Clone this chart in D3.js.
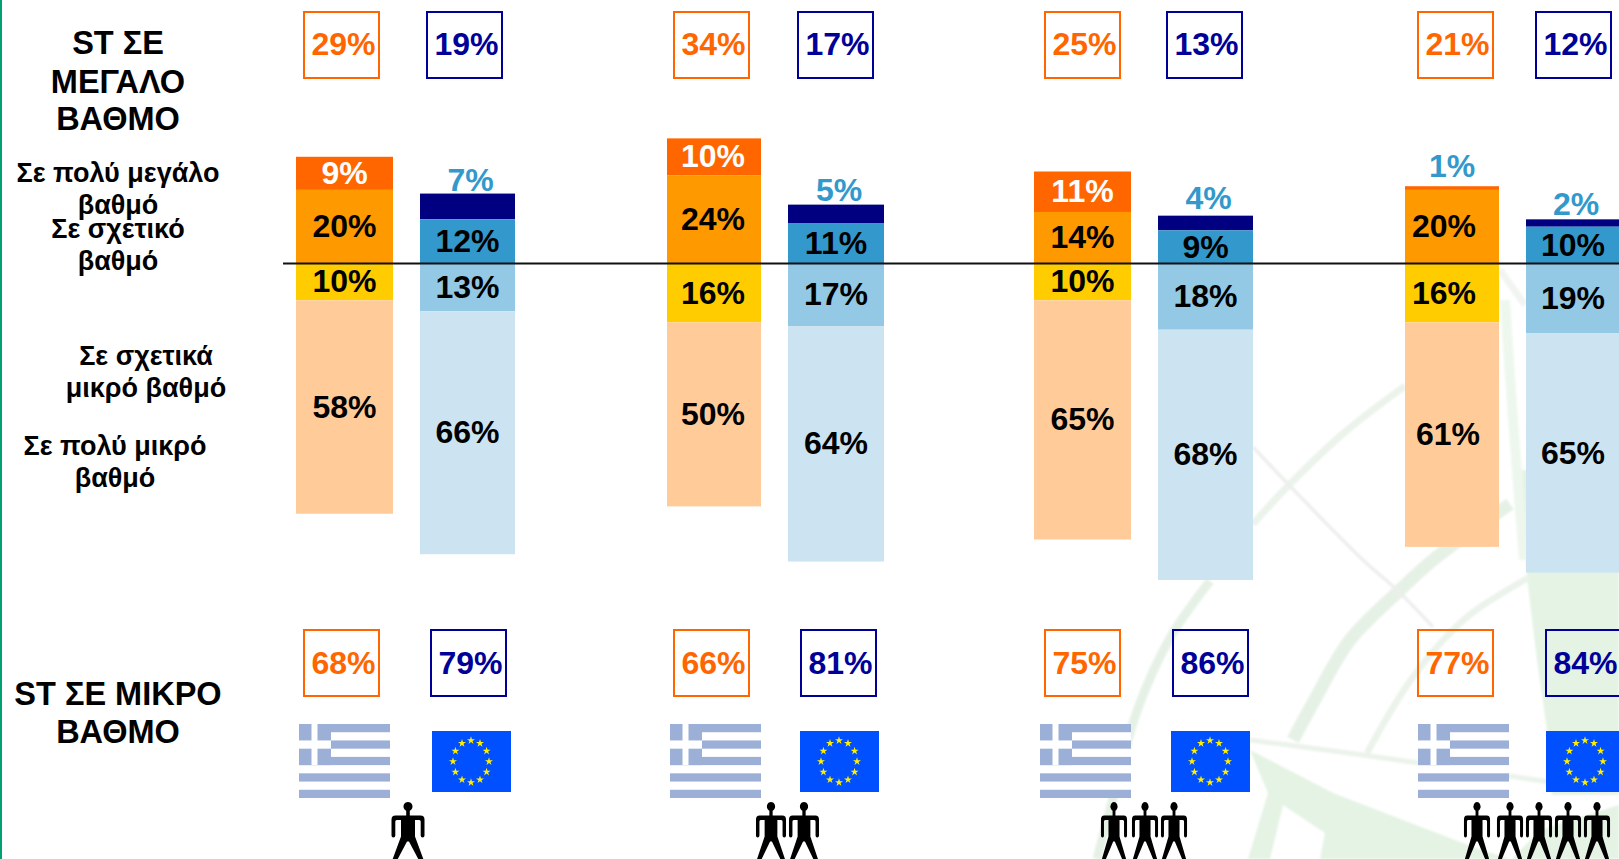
<!DOCTYPE html>
<html lang="el">
<head>
<meta charset="utf-8">
<script src="https://cdnjs.cloudflare.com/ajax/libs/d3/7.8.5/d3.min.js"></script>
<style>
html,body{margin:0;padding:0;background:#fff;overflow:hidden}
svg{display:block}
text{font-family:"Liberation Sans",Arial,sans-serif;font-weight:700}
</style>
</head>
<body>
<svg id="chart" width="1619" height="859"></svg>
<script>
const groups = ["one", "two", "three", "five"];
const peopleCounts = [1, 2, 3, 5];

const grVeryLarge = [9, 10, 11, 1];
const grFairlyLarge = [20, 24, 14, 20];
const grFairlySmall = [10, 16, 10, 16];
const grVerySmall = [58, 50, 65, 61];

const euVeryLarge = [7, 5, 4, 2];
const euFairlyLarge = [12, 11, 9, 10];
const euFairlySmall = [13, 17, 18, 19];
const euVerySmall = [66, 64, 68, 65];

const grTotalLarge = [29, 34, 25, 21];
const euTotalLarge = [19, 17, 13, 12];
const grTotalSmall = [68, 66, 75, 77];
const euTotalSmall = [79, 81, 86, 84];

const grColors = ["#FF6600", "#FF9900", "#FFCC00", "#FFCC99"];
const euColors = ["#000080", "#3399CC", "#93C9E4", "#CCE4F1"];

const sideLabels = [
  {cx: 118, lines: [["ST ΣΕ", 43], ["ΜΕΓΑΛΟ", 82], ["ΒΑΘΜΟ", 119]], size: 32.5},
  {cx: 118, lines: [["Σε πολύ μεγάλο", 173], ["βαθμό", 205]], size: 27},
  {cx: 118, lines: [["Σε σχετικό", 229], ["βαθμό", 261]], size: 27},
  {cx: 146, lines: [["Σε σχετικά", 356], ["μικρό βαθμό", 388]], size: 27},
  {cx: 115, lines: [["Σε πολύ μικρό", 446], ["βαθμό", 478]], size: 27},
  {cx: 118, lines: [["ST ΣΕ ΜΙΚΡΟ", 694], ["ΒΑΘΜΟ", 732]], size: 32.5}
];

const svg = d3.select("#chart");
const W = 1619, H = 859;

const defs = svg.append("defs");
[["soft", 0.6], ["wmBlur", 1.2]].forEach(([id, sd]) => {
  defs.append("filter").attr("id", id).attr("x", "-5%").attr("y", "-5%").attr("width", "110%").attr("height", "110%")
    .append("feGaussianBlur").attr("stdDeviation", sd);
});

// layout scales
const y = d3.scaleLinear().domain([0, 100]).range([263.5, -104.5]);
const grBarX = d3.scaleOrdinal(groups, [296, 667, 1034, 1405]);
const euBarX = d3.scaleOrdinal(groups, [420, 788, 1158, 1526]);
const grBarW = d3.scaleOrdinal(groups, [97, 94, 97, 94]);
const euBarW = d3.scaleOrdinal(groups, [95, 96, 95, 94]);
const grBoxX = d3.scaleOrdinal(groups, [304, 674, 1045, 1418]);
const euTopBoxX = d3.scaleOrdinal(groups, [427, 798, 1167, 1536]);
const euLowBoxX = d3.scaleOrdinal(groups, [431, 801, 1173, 1546]);
const grFlagX = d3.scaleOrdinal(groups, [299, 670, 1040, 1418]);
const euFlagX = d3.scaleOrdinal(groups, [432, 800, 1171, 1546]);
const peopleX = d3.scaleOrdinal(groups, [[408], [771, 804], [1114, 1145, 1174], [1477, 1510, 1539, 1568, 1597]]);
const peopleScale = d3.scaleOrdinal(groups, [1, 0.91, 0.79, 0.79]);
const grLabelDx = d3.scaleOrdinal(groups, [0, -1, 0, -8]);
const aboveGap = d3.scaleOrdinal(groups, [13, 14, 17, 15]);

// background watermark
const wm = svg.append("g").attr("filter", "url(#wmBlur)");
const pale = "#e4f3e4", band = "#e6f1e6", paleGrey = "#ebf3eb";
const line = d3.line().curve(d3.curveCatmullRom);
const fills = [
  {p: [[1522,470],[1527,577],[1537,660],[1547,730],[1552,795],[1619,795],[1619,470]], c: pale},
  {p: [[1250,750],[1333,793],[1473,847],[1510,859],[1248,859],[1268,793]], c: pale},
  {p: [[1283,805],[1325,833],[1320,859],[1270,859]], c: "#fff"},
  {p: [[1512,859],[1540,830],[1619,805],[1619,859]], c: pale}
];
fills.forEach(f => wm.append("path").attr("d", d3.line()(f.p) + "Z").attr("fill", f.c));
const strokes = [
  {p: [[1253,524],[1289,485],[1345,432],[1405,386]], w: 7, c: paleGrey},
  {p: [[1293,740],[1313,703],[1350,640],[1400,590],[1433,560],[1510,504]], w: 13, c: band},
  {p: [[1253,447],[1289,485],[1363,560],[1397,590],[1433,627]], w: 3.5, c: "#ecefec"},
  {p: [[1210,581],[1170,638],[1137,711],[1112,802],[1097,859]], w: 9, c: band},
  {p: [[1367,753],[1413,677],[1467,617],[1530,577]], w: 6.5, c: paleGrey},
  {p: [[1250,740],[1363,755],[1550,782],[1619,792]], w: 5, c: paleGrey},
  {p: [[1500,270],[1525,305]], w: 7, c: "#f1f4f1"},
  {p: [[1505,300],[1513,420],[1524,560]], w: 10, c: "#eef7ee"}
];
strokes.forEach(s => wm.append("path").attr("d", line(s.p)).attr("fill", "none")
  .attr("stroke", s.c).attr("stroke-width", s.w));

// left edge
svg.append("rect").attr("x", 0).attr("y", 0).attr("width", 2).attr("height", H).attr("fill", "#00A070");

// stacked bars
function drawBars(name, xs, ws, colors, top2, top1, low1, low2, isEu) {
  const g = svg.append("g").attr("class", name);
  groups.forEach((gr, i) => {
    const segs = [
      {v: top2[i], a: top1[i] + top2[i], b: top1[i], c: colors[0], k: 0},
      {v: top1[i], a: top1[i], b: 0, c: colors[1], k: 1},
      {v: low1[i], a: 0, b: -low1[i], c: colors[2], k: 2},
      {v: low2[i], a: -low1[i], b: -low1[i] - low2[i], c: colors[3], k: 3}
    ];
    const x0 = xs(gr), w = ws(gr), dx = isEu ? 0 : grLabelDx(gr);
    g.selectAll("rect.s" + i).data(segs).join("rect")
      .attr("x", x0).attr("width", w)
      .attr("y", d => y(d.a)).attr("height", d => y(d.b) - y(d.a))
      .attr("fill", d => d.c);
    g.selectAll("text.s" + i).data(segs).join("text")
      .attr("text-anchor", "middle").attr("font-size", 32)
      .attr("x", d => {
        const cx = Math.min(x0 + w / 2, 1574);
        if (d.k === 0 && d.v < 8) return cx + (isEu ? 3 : 0);
        if (d.k === 3 && dx < -4) return cx + dx / 2;
        return cx + dx;
      })
      .attr("y", d => d.k === 0 && d.v < 8 ? y(d.a) - aboveGap(gr) - (isEu ? 0 : 5) : (y(d.a) + y(d.b)) / 2)
      .attr("dy", "0.33em")
      .attr("fill", d => d.k === 0 ? (d.v < 8 ? "#3399CC" : "#fff") : "#000")
      .text(d => d.v + "%");
  });
}
drawBars("greece", grBarX, grBarW, grColors, grVeryLarge, grFairlyLarge, grFairlySmall, grVerySmall, false);
drawBars("eu", euBarX, euBarW, euColors, euVeryLarge, euFairlyLarge, euFairlySmall, euVerySmall, true);

// zero line
svg.append("line").attr("x1", 283).attr("x2", W).attr("y1", y(0)).attr("y2", y(0))
  .attr("stroke", "#111").attr("stroke-width", 2);

// outlined totals
function drawBoxes(values, xs, top, color, shift) {
  const g = svg.append("g");
  groups.forEach((gr, i) => {
    g.append("rect").attr("x", xs(gr)).attr("y", top).attr("width", 75).attr("height", 66)
      .attr("fill", "none").attr("stroke", color).attr("stroke-width", 2);
    g.append("text").attr("x", xs(gr) + 39.5).attr("y", top + shift).attr("dy", "0.33em")
      .attr("text-anchor", "middle").attr("font-size", 32).attr("fill", color)
      .text(values[i] + "%");
  });
}
drawBoxes(grTotalLarge, grBoxX, 12, "#FF6600", 32);
drawBoxes(euTotalLarge, euTopBoxX, 12, "#000099", 32);
drawBoxes(grTotalSmall, grBoxX, 630, "#FF6600", 33);
drawBoxes(euTotalSmall, euLowBoxX, 630, "#000099", 33);

// side labels
sideLabels.forEach(s => {
  s.lines.forEach(([t, yy]) => {
    svg.append("text").attr("x", s.cx).attr("y", yy).attr("dy", "0.34em")
      .attr("text-anchor", "middle").attr("font-size", s.size).attr("fill", "#000").text(t);
  });
});

// Greek flags
function greekFlag(x0) {
  const g = svg.append("g").attr("transform", `translate(${x0},724)`).attr("filter", "url(#soft)");
  const fw = 91, fh = 74, st = fh / 9, c = "#9BAFD7";
  g.append("rect").attr("width", fw).attr("height", fh).attr("fill", "#fff");
  d3.range(0, 9, 2).forEach(k => g.append("rect").attr("y", k * st).attr("width", fw).attr("height", st).attr("fill", c));
  g.append("rect").attr("width", 32).attr("height", st * 5).attr("fill", c);
  g.append("rect").attr("x", 12.5).attr("width", 6).attr("height", st * 5).attr("fill", "#fff");
  g.append("rect").attr("y", st * 2).attr("width", 32).attr("height", st).attr("fill", "#fff");
}
// EU flags
const star = d3.symbol().type(d3.symbolStar).size(20);
function euFlag(x0) {
  const g = svg.append("g").attr("transform", `translate(${x0},731)`);
  g.append("rect").attr("width", 79).attr("height", 61).attr("fill", "#0050FF");
  d3.range(12).forEach(k => {
    const a = k / 12 * 2 * Math.PI;
    g.append("path").attr("d", star).attr("fill", "#FFF000")
      .attr("transform", `translate(${39 + 18 * Math.sin(a)},${30.5 - 21 * Math.cos(a)})`);
  });
}
groups.forEach(gr => { greekFlag(grFlagX(gr)); euFlag(euFlagX(gr)); });

// people pictograms
const personPath = "M0,-4.5 a4.5,4.5 0 1 1 -0.01,0 Z" +
  "M-1.8,3 H1.8 V9 H12.5 Q16.5,9 16.5,13 V29 Q16.5,31 14.6,31 Q12.7,31 12.7,29 V15 Q12.7,13.5 11.2,13.5 H7 V30 L15.5,53 H10.5 L1,35 H-1 L-10.5,53 H-15.5 L-7,30 V13.5 H-11.2 Q-12.7,13.5 -12.7,15 V29 Q-12.7,31 -14.6,31 Q-16.5,31 -16.5,29 V13 Q-16.5,9 -12.5,9 H-1.8 Z";
groups.forEach(gr => {
  peopleX(gr).forEach(px => {
    svg.append("path").attr("d", personPath)
      .attr("transform", `translate(${px},806.5) scale(${peopleScale(gr)},1)`)
      .attr("fill", "#000").attr("filter", "url(#soft)");
  });
});
</script>
</body>
</html>
